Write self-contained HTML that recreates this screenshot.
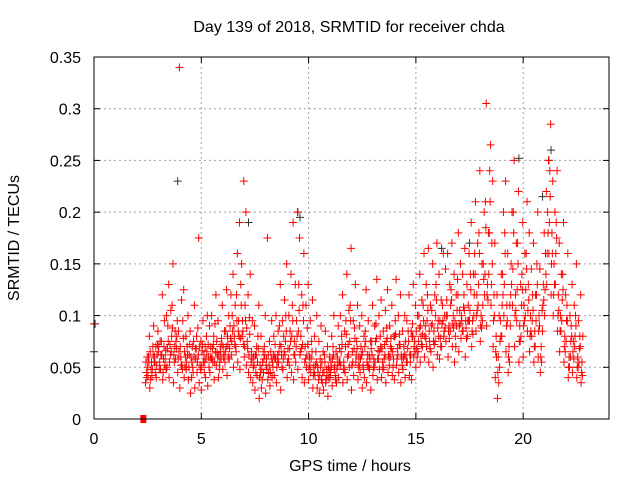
<!DOCTYPE html>
<html><head><meta charset="utf-8"><style>
html,body{margin:0;padding:0;background:#fff;}
svg{display:block;font-family:"Liberation Sans",sans-serif;}
</style></head><body>
<svg id="chart" width="640" height="480" viewBox="0 0 640 480">
<text x="349" y="32" font-size="16" text-anchor="middle" fill="#000">Day 139 of 2018, SRMTID for receiver chda</text>
<text x="0" y="0" font-size="16" text-anchor="middle" transform="translate(19,238) rotate(-90)">SRMTID / TECUs</text>
<text x="350" y="471" font-size="16" text-anchor="middle">GPS time / hours</text>
<g id="grid"></g>
<g id="ticks"></g>
<g id="pts"></g>
<rect x="94" y="57" width="515" height="362" fill="none" stroke="#000" stroke-width="1"/>
</svg>
<script>
const xTicks=[0,5,10,15,20];
const yTicks=[0,0.05,0.1,0.15,0.2,0.25,0.3,0.35];
const yTickLabels=["0","0.05","0.1","0.15","0.2","0.25","0.3","0.35"];
const tStart=2.4, tStep=0.1;
const seriesMid=[45,60,38,70,55,62,48,75,58,66,90,72,110,55,68,85,60,95,50,70,62,40,75,58,88,52,66,45,80,60,70,55,92,64,48,78,60,85,72,90,100,80,120,95,130,85,110,75,98,65,60,45,80,52,38,70,58,44,65,50,72,55,90,62,80,100,68,85,110,75,95,130,80,110,70,88,60,75,50,65,45,58,35,62,48,40,55,70,42,60,68,80,55,95,72,110,65,88,75,60,70,52,85,62,48,75,58,92,66,80,55,72,88,60,78,50,95,68,82,58,70,62,85,55,92,75,68,100,80,110,90,120,75,105,85,130,95,78,110,100,115,90,125,100,80,135,105,95,120,88,110,140,95,160,120,180,100,150,210,130,240,170,120,80,60,95,140,180,110,70,150,200,120,170,90,140,110,160,130,100,120,85,150,100,70,130,160,200,240,180,150,190,120,100,140,80,110,60,90,75,100,60,80,55];
const seriesLow=[35,50,30,42,55,40,65,48,38,52,50,40,65,35,58,45,30,52,40,48,38,25,50,30,45,35,28,55,40,32,45,60,38,52,40,65,48,55,42,58,62,50,70,55,48,80,60,52,45,40,35,28,42,20,30,45,25,38,32,40,42,35,55,28,48,62,40,52,45,38,55,48,62,40,35,50,38,45,30,42,30,25,38,28,35,22,40,32,48,35,40,52,35,45,38,50,28,42,55,38,45,30,40,35,50,28,42,55,38,48,40,50,35,45,60,42,38,52,45,35,48,40,55,42,38,60,50,65,55,70,60,70,55,65,50,75,62,58,70,80,75,60,85,70,55,90,65,78,85,60,80,95,70,100,85,110,75,95,120,90,140,110,70,40,20,50,80,100,65,45,90,110,70,95,55,80,60,100,85,65,80,55,95,60,45,85,100,130,160,120,100,130,85,65,95,55,75,40,60,45,70,40,55,35];
const seriesHigh=[60,80,55,90,70,85,75,120,95,100,130,105,150,85,95,340,115,125,80,100,85,70,110,80,175,75,95,70,100,90,100,80,120,95,70,110,85,125,100,120,140,110,160,190,150,230,200,120,140,95,90,70,110,80,65,100,175,75,95,80,100,85,130,95,115,150,100,140,190,130,200,175,120,160,110,130,95,115,80,100,75,90,65,85,70,60,80,100,65,90,100,120,85,140,105,165,95,130,110,90,100,80,125,95,75,110,90,135,100,115,85,105,125,90,110,80,135,100,120,85,100,95,120,85,130,110,100,140,115,160,130,165,110,150,120,170,140,115,160,145,160,130,170,140,120,180,150,140,165,130,160,190,140,210,170,240,150,200,305,180,265,230,170,120,100,140,200,230,160,110,200,250,170,220,130,190,160,210,180,145,170,120,200,145,105,180,220,250,285,230,200,240,170,140,190,120,160,100,130,110,150,95,120,80];
const seriesExtraA=[55,42,65,48,60,52,70,62,45,58,68,55,80,62,75,58,70,48,65,55,50,60,45,68,55,70,50,62,58,72,60,68,55,75,62,58,70,65,80,68,75,90,65,85,78,95,70,88,62,55,50,62,55,40,48,58,52,62,45,55,60,50,65,70,58,75,55,68,80,62,70,85,65,72,55,62,48,58,42,52,50,42,55,45,38,50,45,58,52,48,55,65,48,70,60,75,52,68,62,50,58,65,70,55,62,68,50,75,58,65,68,58,75,62,70,65,80,58,72,62,60,75,68,62,80,70,85,75,90,82,80,95,85,90,75,100,88,95,92,85,100,85,110,92,95,105,90,100,108,95,95,105,85,120,100,130,90,110,140,120,180,130,95,65,45,75,110,130,90,60,120,145,100,125,75,110,90,125,105,80,95,70,120,85,60,110,125,160,190,150,120,160,100,85,115,70,95,50,75,65,80,50,68,45];
const seriesExtraB=[40,55,48,62,45,72,55,62,70,48,75,62,88,70,80,65,52,78,60,62,72,55,60,68,62,48,72,55,65,50,58,72,65,60,55,72,62,70,60,78,85,72,95,80,110,72,95,68,82,58,52,62,68,45,55,62,48,52,58,62,58,62,72,50,65,85,58,75,95,62,80,105,68,95,58,72,52,65,45,55,38,50,45,55,42,48,50,62,38,52,55,72,48,82,62,95,55,78,68,52,62,48,75,52,58,62,50,78,58,70,48,62,78,52,68,58,82,62,72,52,62,55,75,62,80,65,60,88,72,95,78,105,68,92,72,115,80,70,95,88,100,78,115,88,70,120,92,85,105,78,95,125,82,140,105,160,88,135,185,115,210,150,100,60,35,80,120,160,95,55,130,180,105,150,75,125,95,145,115,85,105,70,130,90,55,115,140,180,215,160,130,175,105,85,125,65,95,50,80,58,90,50,70,42];
const blackTimes=[0,0.05,3.9,9.5,9.6,19.8,21.2,21.3,16.2,17.5,20.9,7.2];
const blackValues=[0.065,0.092,0.23,0.2,0.195,0.252,0.25,0.26,0.165,0.17,0.215,0.19];
const X0=94,X1=609,Y0=419,Y1=57,XMAX=24,YMAX=0.35;
function xs(t){return X0+(X1-X0)*t/XMAX;}
function ys(v){return Y0-(Y0-Y1)*v/YMAX;}
const NS="http://www.w3.org/2000/svg";
const grid=document.getElementById('grid'),ticks=document.getElementById('ticks'),pts=document.getElementById('pts');
function mk(tag,attrs,parent){const e=document.createElementNS(NS,tag);for(const k in attrs)e.setAttribute(k,attrs[k]);parent.appendChild(e);return e;}
xTicks.forEach(t=>{
  const x=xs(t);
  if(t>0){const g=mk('line',{x1:x,y1:Y0,x2:x,y2:Y1,stroke:'#a0a0a0','stroke-dasharray':'2,3'},grid);
  
  }
  const l=mk('text',{x:x,y:Y0+25,'font-size':16,'text-anchor':'middle'},ticks);l.textContent=t;
  
  
  mk('line',{x1:x,y1:Y0,x2:x,y2:Y0-6,stroke:'#000'},ticks);
  mk('line',{x1:x,y1:Y1,x2:x,y2:Y1+6,stroke:'#000'},ticks);
});
yTicks.forEach((v,i)=>{
  const y=ys(v);
  if(v>0&&v<YMAX){const g=mk('line',{x1:X0,y1:y,x2:X1,y2:y,stroke:'#a0a0a0','stroke-dasharray':'2,3'},grid);
  
  }
  const l=mk('text',{x:X0-13,y:y+6,'font-size':16,'text-anchor':'end'},ticks);l.textContent=yTickLabels[i];
  
  
  mk('line',{x1:X0,y1:y,x2:X0+6,y2:y,stroke:'#000'},ticks);
  mk('line',{x1:X1,y1:y,x2:X1-6,y2:y,stroke:'#000'},ticks);
});
function plus(t,v,color){
  const x=xs(t),y=ys(v);
  const p=mk('path',{d:`M${x-4} ${y}H${x+4}M${x} ${y-4}V${y+4}`,stroke:color,'stroke-width':1,fill:'none'},pts);
  
  
}
blackTimes.forEach((t,i)=>plus(t,blackValues[i],'#333'));
[seriesLow,seriesExtraA,seriesMid,seriesExtraB,seriesHigh].forEach((arr,s)=>{
  arr.forEach((v,i)=>{plus(tStart+i*tStep+s*0.02,v/1000,'#ff0000');});
});
plus(0,0.092,'#ff0000');
const sq=mk('rect',{x:xs(2.3)-3,y:Y0-4,width:6,height:8,fill:'#ff0000'},pts);


</script>
</body></html>
